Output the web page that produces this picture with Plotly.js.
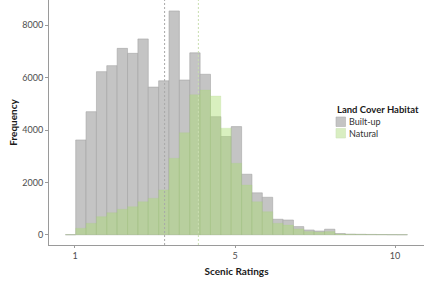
<!DOCTYPE html>
<html>
<head>
<meta charset="utf-8">
<script src="https://cdn.plot.ly/plotly-3.0.1.min.js"></script>
<style>html,body{margin:0;padding:0;background:#fff;}#chart{width:431px;height:286px;}</style>
</head>
<body>
<div id="chart"></div>
<script>
// ---- data ----
const binCenters = [0.874, 1.166, 1.457, 1.749, 2.040, 2.332, 2.624, 2.915, 3.207, 3.498, 3.790,
  4.082, 4.373, 4.665, 4.956, 5.248, 5.540, 5.831, 6.123, 6.414, 6.706, 6.998, 7.289, 7.581,
  7.872, 8.164, 8.456, 8.747, 9.039, 9.330, 9.622, 9.914, 10.205];
const builtUp = [0, 3620, 4700, 6230, 6460, 7120, 6930, 7480, 5640, 5880, 8550, 5910, 6950,
  6130, 4510, 3750, 4130, 2310, 1600, 1430, 590, 560, 310, 180, 140, 210, 45, 20, 15, 10, 5, 3, 0];
const natural = [0, 245, 435, 690, 840, 970, 1070, 1260, 1390, 1710, 2920, 3900, 5350,
  5530, 5300, 4070, 2730, 1900, 1260, 880, 435, 370, 220, 120, 100, 120, 25, 15, 10, 5, 3, 0, 0];
const binWidth = 0.2916;
const meanBuiltUp = 3.52;
const meanNatural = 4.47;
const seriesNames = ['Built-up', 'Natural'];
const legendTitle = 'Land Cover Habitat';
const xTickVals = [1, 5.5, 10];
const xTickText = ['1', '5', '10'];
const yTickVals = [0, 2000, 4000, 6000, 8000];
const yTickText = ['0', '2000', '4000', '6000', '8000'];

// ---- styles ----
const grayFill = '#c4c4c4';
const grayLine = 'rgba(160,160,160,0.9)';
const greenFill = 'rgba(170,222,112,0.45)';
const greenLine = 'rgba(170,210,130,0.35)';
const FONT = 'Lato, "Open Sans", sans-serif';

const W = 431, H = 286, ML = 49, MR = 7, MT = 0, MB = 41;
const PW = W - ML - MR, PH = H - MT - MB;
const px2x = p => (p - ML) / PW;
const px2y = p => 1 - (p - MT) / PH;

const traces = [
  {type: 'bar', name: seriesNames[0], x: binCenters, y: builtUp, width: binWidth,
   marker: {color: grayFill, line: {color: grayLine, width: 0.6}}, hoverinfo: 'x+y'},
  {type: 'bar', name: seriesNames[1], x: binCenters, y: natural, width: binWidth,
   marker: {color: greenFill, line: {color: greenLine, width: 0.5}}, hoverinfo: 'x+y'}
];

const shapes = [
  {type: 'line', xref: 'x', yref: 'paper', x0: meanBuiltUp, x1: meanBuiltUp, y0: 0, y1: 1,
   line: {color: '#a8a8a8', width: 1, dash: '2px,2px'}},
  {type: 'line', xref: 'x', yref: 'paper', x0: meanNatural, x1: meanNatural, y0: 0, y1: 1,
   line: {color: '#c9dfb0', width: 1, dash: '2px,2px'}},
  // legend keys
  {type: 'rect', xref: 'paper', yref: 'paper', x0: px2x(336), x1: px2x(345.5), y0: px2y(126.5), y1: px2y(117),
   fillcolor: grayFill, line: {color: '#b0b0b0', width: 0.6}},
  {type: 'rect', xref: 'paper', yref: 'paper', x0: px2x(336), x1: px2x(345.5), y0: px2y(138), y1: px2y(128.5),
   fillcolor: '#d9eec2', line: {color: '#cfe3b8', width: 0.6}}
];

const annotations = [
  {xref: 'paper', yref: 'paper', x: px2x(334.5), y: px2y(109.5), xanchor: 'left', yanchor: 'middle',
   text: '<b>' + legendTitle + '</b>', showarrow: false, font: {family: FONT, size: 9.5, color: '#1a1a1a'}},
  {xref: 'paper', yref: 'paper', x: px2x(347), y: px2y(121.7), xanchor: 'left', yanchor: 'middle',
   text: seriesNames[0], showarrow: false, font: {family: FONT, size: 9, color: '#333'}},
  {xref: 'paper', yref: 'paper', x: px2x(347), y: px2y(133.2), xanchor: 'left', yanchor: 'middle',
   text: seriesNames[1], showarrow: false, font: {family: FONT, size: 9, color: '#333'}}
];

const layout = {
  width: W, height: H,
  margin: {l: ML, r: MR, t: MT, b: MB, pad: 0},
  paper_bgcolor: '#fff', plot_bgcolor: '#fff',
  barmode: 'overlay', bargap: 0, showlegend: false,
  font: {family: FONT, color: '#444'},
  xaxis: {
    range: [0.269, 10.815], tickmode: 'array', tickvals: xTickVals, ticktext: xTickText,
    showgrid: false, zeroline: false, showline: true, linecolor: '#9a9a9a', linewidth: 1,
    ticks: 'outside', ticklen: 2, tickcolor: '#9a9a9a', tickwidth: 1,
    tickfont: {family: FONT, size: 9, color: '#4d4d4d'},
    title: {text: '<b>Scenic Ratings</b>', font: {family: FONT, size: 10, color: '#1a1a1a'}, standoff: 8},
    automargin: false, fixedrange: true
  },
  yaxis: {
    range: [-394, 8968], tickmode: 'array', tickvals: yTickVals, ticktext: yTickText,
    showgrid: false, zeroline: false, showline: true, linecolor: '#9a9a9a', linewidth: 1,
    ticks: 'outside', ticklen: 3, tickcolor: '#9a9a9a', tickwidth: 1,
    tickfont: {family: FONT, size: 9, color: '#4d4d4d'},
    title: {text: '<b>Frequency</b>', font: {family: FONT, size: 10, color: '#1a1a1a'}, standoff: 2},
    automargin: false, fixedrange: true
  },
  shapes: shapes,
  annotations: annotations
};

Plotly.newPlot('chart', traces, layout, {staticPlot: true, displayModeBar: false});
</script>
</body>
</html>
